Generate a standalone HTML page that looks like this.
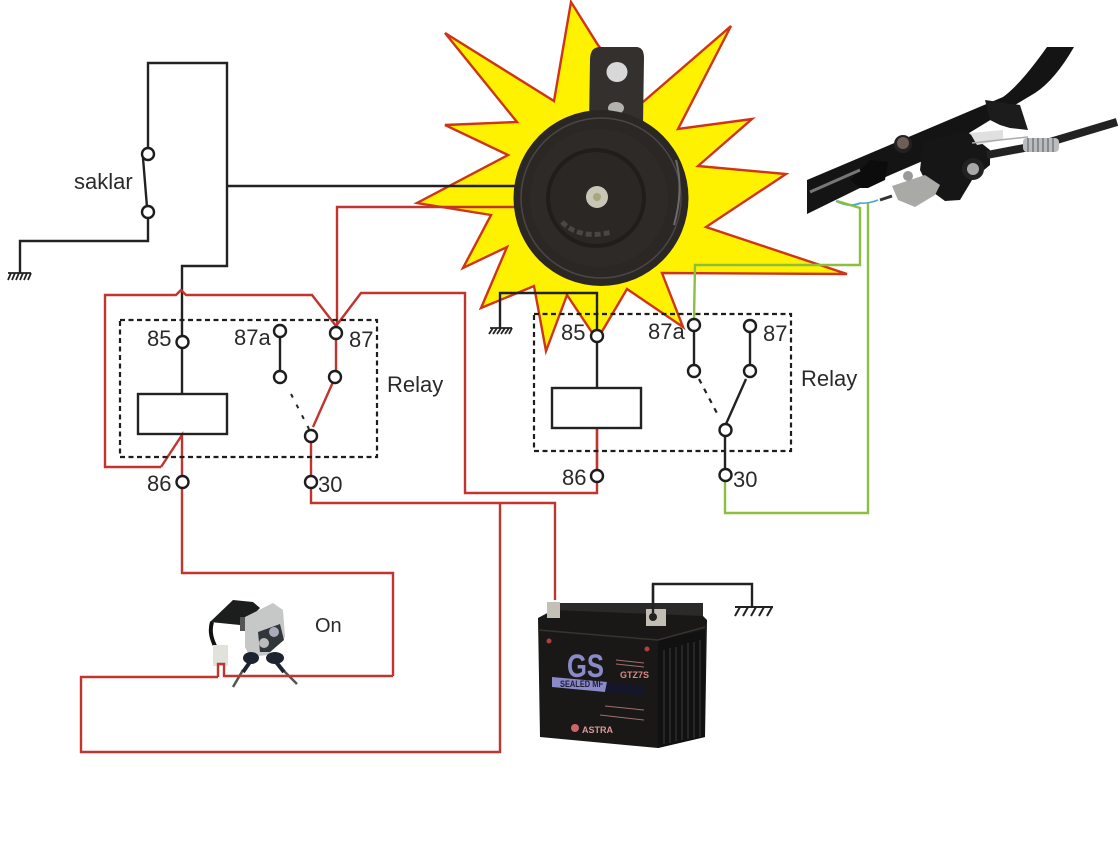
<!DOCTYPE html>
<html><head><meta charset="utf-8"><style>
html,body{margin:0;padding:0;background:#fff}
svg{display:block}
text{font-family:"Liberation Sans",sans-serif;fill:#2a2a2a}
.l{font-size:22px}
.k{fill:none;stroke:#222;stroke-width:2.4}
.r{fill:none;stroke:#c1352e;stroke-width:2.4}
.g{fill:none;stroke:#8cbf3f;stroke-width:2.4}
.c{fill:#fff;stroke:#1d1d1d;stroke-width:2.4}
.d{fill:none;stroke:#1d1d1d;stroke-width:2.2;stroke-dasharray:5 3.5}
.h{fill:none;stroke:#222;stroke-width:1.8}
</style></head><body>
<svg width="1118" height="860" viewBox="0 0 1118 860" xmlns="http://www.w3.org/2000/svg">
<rect width="1118" height="860" fill="#fff"/>

<!-- star -->
<polygon points="571,2 598,45 643,102 731,26 678,129 752,119 698,166 786,174 706,227 847,274 662,273 683,327 627,289 597,340 567,295 546,351 534,286 481,308 507,247 463,268 491,215 417,203 508,155 445,125 517,122 445,33 554,101" fill="#fff200" stroke="#cf3418" stroke-width="2.4"/>

<!-- wires under horn -->
<path class="k" d="M148,150V63H227V266H182V342"/>
<path class="k" d="M143,158L147,207M148,218V241H20V273"/>
<circle class="c" cx="148" cy="154" r="6"/><circle class="c" cx="148" cy="212" r="6"/>
<path class="k" d="M228,186H516"/>
<path class="r" d="M517,207H337V326"/>

<!-- horn -->
<path d="M590,60Q590,47 600,47H636Q644,47 644,58L643,125H589Z" fill="#34302d"/>
<ellipse cx="617" cy="72" rx="10.500" ry="10" fill="#d8d8d8"/>
<ellipse cx="616" cy="108" rx="8" ry="6" fill="#b4b2ae"/>
<ellipse cx="601" cy="198" rx="87.500" ry="88" fill="#2b2725"/>
<circle cx="601" cy="198" r="80" fill="none" stroke="#4a4643" stroke-width="1.500"/>
<circle cx="599" cy="198" r="69" fill="#2e2a28"/>
<circle cx="596" cy="198" r="50" fill="#201d1b"/>
<circle cx="596" cy="198" r="46" fill="#2a2725"/>
<path d="M676,160Q684,190 674,225" fill="none" stroke="#6d6967" stroke-width="2"/>
<circle cx="597" cy="197" r="11" fill="#c9c6b8"/>
<circle cx="597" cy="197" r="4" fill="#aaa67c"/>
<path d="M562,222Q580,240 612,232" fill="none" stroke="#4a4643" stroke-width="5" stroke-dasharray="6 3"/>

<!-- frame image -->
<path d="M807,180L1003,97Q1020,85 1047,47H1074Q1055,80 1035,93L1010,108L925,160L860,188L807,214Z" fill="#141414"/>
<polygon points="923,143 965,130 990,150 990,165 972,180 960,200 945,201 930,190 920,170" fill="#161616"/>
<polygon points="985,100 1020,105 1028,130 1010,128 1000,125 990,120" fill="#1c1c1c"/>
<polygon points="850,180 870,160 888,162 885,180 868,188 860,188" fill="#0c0c0c"/>
<path d="M810,192L860,170" stroke="#777" stroke-width="3" fill="none"/>
<path d="M987,155L1040,145L1117,122" stroke="#222" stroke-width="8" fill="none"/>
<polygon points="970,133 1003,130 1003,140 977,145" fill="#e0e0e0"/>
<path d="M972,143L1028,137" stroke="#aaa" stroke-width="1.500" fill="none"/>
<rect x="1023" y="138" width="36" height="14" rx="4" fill="#b9bdbf"/>
<path d="M1028,138v14M1033,138v14M1038,138v14M1043,138v14M1048,138v14M1053,138v14" stroke="#555" stroke-width="1"/>
<circle cx="903" cy="144" r="9" fill="#222"/><circle cx="903" cy="143" r="6" fill="#6e5f56"/>
<circle cx="973" cy="169" r="11" fill="#222"/><circle cx="973" cy="169" r="6" fill="#a8a8a8"/>
<polygon points="892,186 925,175 940,185 935,195 915,207 898,200" fill="#a9aaa6"/>
<circle cx="908" cy="176" r="5" fill="#999"/>
<path d="M880,200L892,196" stroke="#333" stroke-width="3" fill="none"/>
<path d="M836,201Q850,208 860,203" stroke="#49a6c9" stroke-width="2" fill="none"/>
<path d="M860,203Q868,204 878,200" stroke="#49a6c9" stroke-width="1.500" fill="none"/>

<!-- green wires -->
<path class="g" d="M694,319L695,265H860V208L837,201"/>
<path class="g" d="M725,481V513H868V203"/>

<!-- red wires -->
<path class="r" d="M161,467H105V295H176L181,290L186,295H312L336,326L361,293H465V493H597V428"/>
<path class="r" d="M161,467L182,435V482V573H393V676"/>
<path class="r" d="M500,503V752H81V677H218"/>
<path class="r" d="M311,482V503H555V600"/>
<path class="r" d="M336,326V371M333,382L313,427M311,442V476"/>

<!-- relay 1 -->
<rect class="d" x="120" y="320" width="257" height="137"/>
<path class="k" d="M182,342V394M280,331V377"/>
<rect class="k" x="138" y="394" width="89" height="40"/>
<path d="M291,394L309,429" fill="none" stroke="#222" stroke-width="2" stroke-dasharray="4 8"/>
<circle class="c" cx="182.500" cy="342" r="6"/><circle class="c" cx="280" cy="331" r="6"/>
<circle class="c" cx="280" cy="377" r="6"/><circle class="c" cx="336" cy="333" r="6"/>
<circle class="c" cx="335" cy="377" r="6"/><circle class="c" cx="311" cy="436" r="6"/>
<circle class="c" cx="182.500" cy="482" r="6"/><circle class="c" cx="311" cy="482" r="6"/>
<text class="l" x="147" y="346">85</text><text class="l" x="234" y="345">87a</text>
<text class="l" x="349" y="347">87</text><text class="l" x="387" y="392">Relay</text>
<text class="l" x="147" y="491">86</text><text class="l" x="318" y="492">30</text>

<!-- relay 2 -->
<path class="k" d="M500,328V293H597V388"/>
<path class="r" d="M597,428V476"/>
<rect class="d" x="534" y="314" width="257" height="137"/>
<path class="k" d="M694,325V371M750,326V371M746,379L726,424M725,436V475"/>
<rect class="k" x="552" y="388" width="89" height="40"/>
<path d="M699,379L719,417" fill="none" stroke="#222" stroke-width="2.200" stroke-dasharray="5 6"/>
<circle class="c" cx="597" cy="336" r="6"/><circle class="c" cx="694" cy="325" r="6"/>
<circle class="c" cx="694" cy="371" r="6"/><circle class="c" cx="750" cy="326" r="6"/>
<circle class="c" cx="750" cy="371" r="6"/><circle class="c" cx="725.500" cy="430" r="6"/>
<circle class="c" cx="597" cy="476" r="6"/><circle class="c" cx="725.500" cy="475" r="6"/>
<text class="l" x="561" y="340">85</text><text class="l" x="648" y="339">87a</text>
<text class="l" x="763" y="341">87</text><text class="l" x="801" y="386">Relay</text>
<text class="l" x="562" y="485">86</text><text class="l" x="733" y="487">30</text>

<!-- grounds -->
<path class="h" d="M8,273H31M11,273L8,280M15,273L12,280M19,273L16,280M23,273L20,280M27,273L24,280M31,273L28,280"/>
<path class="h" d="M490,328H512M493,328L489,334M497,328L493,334M501,328L497,334M505,328L501,334M509,328L505,334M512,328L509,334"/>
<path class="k" d="M653,613V584H752V607"/>
<path class="h" style="stroke-width:2" d="M735,607H773M740,607L735,616M748,607L743,616M756,607L751,616M764,607L759,616M772,607L767,616"/>

<!-- labels -->
<text class="l" x="74" y="189">saklar</text>
<text x="315" y="632" font-size="20">On</text>

<!-- key switch -->
<polygon points="210,622 233,600 253,602 260,608 246,622 240,625" fill="#1b1e1c"/>
<rect x="240" y="617" width="10" height="14" fill="#555"/>
<path d="M212,622C209,632 212,640 216,648" fill="none" stroke="#111" stroke-width="4"/>
<rect x="213" y="645" width="15" height="21" fill="#e2e2dc"/>
<polygon points="245,617 273,603 283,610 285,637 268,655 250,657 245,647" fill="#c6c8c8"/>
<polygon points="258,632 280,624 284,640 270,652 260,652" fill="#30363a"/>
<circle cx="274" cy="632" r="5" fill="#aab"/><circle cx="264" cy="643" r="5" fill="#bbb"/>
<path d="M243,670L233,687M283,670L297,684" stroke="#555" stroke-width="2.500" fill="none"/>
<path d="M250,662L243,672M276,662L284,672" stroke="#1c2430" stroke-width="4" fill="none"/>
<ellipse cx="251" cy="658" rx="8" ry="6" fill="#1c2430"/><ellipse cx="275" cy="658" rx="9" ry="6" fill="#1c2430"/>
<path class="r" d="M218,677V664H224V676H393"/>

<!-- battery -->
<polygon points="553,603 703,603 703,618 553,618" fill="#2b2a28"/>
<polygon points="538,618 553,610 703,616 707,620 705,737 658,748 540,737" fill="#191817"/>
<polygon points="658,640 705,630 705,737 658,748" fill="#111"/>
<path d="M664,650V744M670,648V743M676,647V741M682,645V740M688,643V739M694,642V738M700,640V737" stroke="#2e2e2e" stroke-width="1.500"/>
<path d="M538,630L658,640L705,627" stroke="#353432" stroke-width="1.500" fill="none"/>
<rect x="547" y="602" width="13" height="16" fill="#c4c0b6"/>
<rect x="646" y="609" width="20" height="17" fill="#c2beb4"/>
<circle cx="653" cy="617" r="4" fill="#222"/>
<polygon points="552,677 607,682 605,692 552,687" fill="#8a8ac8"/>
<polygon points="607,682 643,686 643,696 605,692" fill="#16162a"/>
<text x="567" y="677" font-size="32" font-weight="bold" textLength="37" lengthAdjust="spacingAndGlyphs" style="fill:#8a8ac8">GS</text>
<text x="560" y="687" font-size="9" font-weight="bold" textLength="43" lengthAdjust="spacingAndGlyphs" style="fill:#1e1e3a">SEALED MF</text>
<text x="620" y="678" font-size="9" font-weight="bold" style="fill:#d98a8a">GTZ7S</text>
<text x="582" y="733" font-size="9" font-weight="bold" style="fill:#d99a9a">ASTRA</text>
<path d="M616,660L644,663M616,664L644,667M600,715L644,720M605,706L644,710" stroke="#a06f6f" stroke-width="1" fill="none"/>
<circle cx="549" cy="641" r="2.500" fill="#b04040"/><circle cx="647" cy="649" r="2.500" fill="#b04040"/>
<circle cx="575" cy="728" r="4" fill="#c66"/>
<path class="k" d="M653,613V584"/>
</svg>
</body></html>
